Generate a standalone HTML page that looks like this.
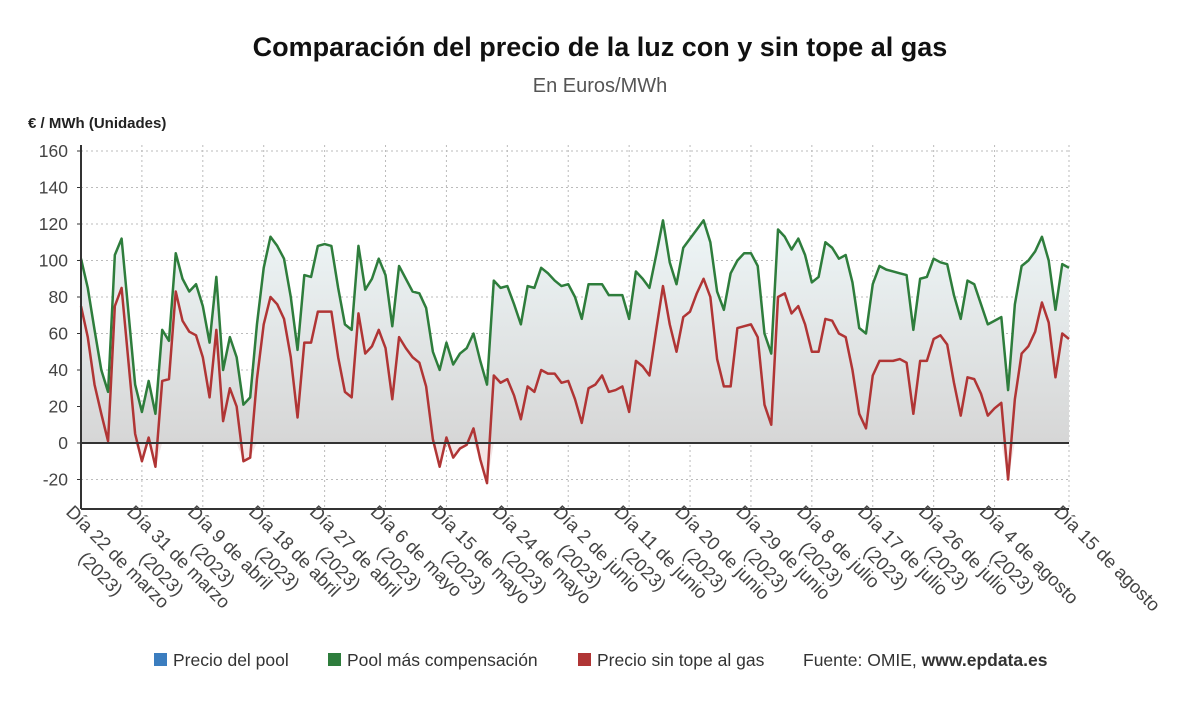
<!DOCTYPE html>
<html><head><meta charset="utf-8">
<style>
body{margin:0;background:#fff;width:1200px;height:705px;overflow:hidden;font-family:"Liberation Sans",sans-serif;}
svg text{font-family:"Liberation Sans",sans-serif;}
</style></head>
<body>
<svg id="chart" width="1200" height="705">
<defs>
<linearGradient id="gfill" x1="0" y1="0" x2="0" y2="1">
<stop offset="0" stop-color="#eef6f7"/><stop offset="1" stop-color="#d6d6d6"/>
</linearGradient>
</defs>
<text x="600" y="56" text-anchor="middle" font-size="27" font-weight="bold" fill="#111">Comparación del precio de la luz con y sin tope al gas</text>
<text x="600" y="92" text-anchor="middle" font-size="20" fill="#555">En Euros/MWh</text>
<text x="28" y="128" font-size="15" font-weight="bold" fill="#222">€ / MWh (Unidades)</text>
<g id="grid"></g>
<g id="areas"></g>
<g id="lines"></g>
<g id="axes"></g>
<g id="xlabels"></g>
<g>
<g><rect x="154" y="653" width="13" height="13" fill="#3b7dbf"/><text x="173" y="666" font-size="17.5" fill="#333">Precio del pool</text></g>
<g><rect x="328" y="653" width="13" height="13" fill="#2e7d3c"/><text x="347" y="666" font-size="17.5" fill="#333">Pool más compensación</text></g>
<g><rect x="578" y="653" width="13" height="13" fill="#b03535"/><text x="597" y="666" font-size="17.5" fill="#333">Precio sin tope al gas</text></g>
<text x="803" y="666" font-size="17.5" fill="#333">Fuente: OMIE, <tspan font-weight="bold">www.epdata.es</tspan></text>
</g>
</svg>
<script>
const pool=[101,85,62,40,28,103,112,72,32,17,34,16,62,56,104,90,83,87,75,55,91,40,58,47,21,25,65,96,113,108,101,80,51,92,91,108,109,108,85,65,62,108,84,90,101,92,64,97,90,83,82,74,50,40,55,43,49,52,60,45,32,89,85,86,76,65,86,85,96,93,89,86,87,80,68,87,87,87,81,81,81,68,94,90,85,103,122,99,87,107,112,117,122,110,83,73,93,100,104,104,97,60,49,117,113,106,112,103,88,91,110,107,101,103,88,63,60,87,97,95,94,93,92,62,90,91,101,99,98,81,68,89,87,76,65,67,69,29,76,97,100,105,113,100,73,98,96];
const sinTope=[75,58,32,16,1,75,85,45,5,-10,3,-13,34,35,83,67,61,59,47,25,62,12,30,20,-10,-8,35,65,80,76,68,47,14,55,55,72,72,72,47,28,25,71,49,53,62,52,24,58,52,47,44,31,2,-13,3,-8,-3,-1,8,-9,-22,37,33,35,26,13,31,28,40,38,38,33,34,24,11,30,32,37,28,29,31,17,45,42,37,62,86,65,50,69,72,82,90,80,46,31,31,63,64,65,58,21,10,80,82,71,75,65,50,50,68,67,60,58,40,16,8,37,45,45,45,46,44,16,45,45,57,59,54,33,15,36,35,27,15,19,22,-20,24,49,53,61,77,66,36,60,57];
const xLabels=["Día 22 de marzo","Día 31 de marzo","Día 9 de abril","Día 18 de abril","Día 27 de abril","Día 6 de mayo","Día 15 de mayo","Día 24 de mayo","Día 2 de junio","Día 11 de junio","Día 20 de junio","Día 29 de junio","Día 8 de julio","Día 17 de julio","Día 26 de julio","Día 4 de agosto","Día 15 de agosto"];
const xLabelIdx=[0,9,18,27,36,45,54,63,72,81,90,99,108,117,126,135,146];
const yTicks=[-20,0,20,40,60,80,100,120,140,160];

const NS="http://www.w3.org/2000/svg";
const X0=81,X1=1069,N=pool.length;
const x=i=>X0+i*(X1-X0)/(N-1);
const y=v=>443-v*1.825;
function mk(t,a,p){const e=document.createElementNS(NS,t);for(const k in a)e.setAttribute(k,a[k]);p.appendChild(e);return e;}
const grid=document.getElementById('grid'),areas=document.getElementById('areas'),lines=document.getElementById('lines'),axes=document.getElementById('axes'),xl=document.getElementById('xlabels');
yTicks.forEach(t=>{
 const l=mk('line',{x1:X0,x2:X1,y1:y(t),y2:y(t),stroke:'#bbb','stroke-dasharray':'2,3'},grid);
 
 
 const tx=mk('text',{x:68,y:y(t)+6,'text-anchor':'end','font-size':17.5,fill:'#444'},axes);
 tx.textContent=t;
 
 
 mk('line',{x1:X0-4,x2:X0,y1:y(t),y2:y(t),stroke:'#333'},axes);
});
xLabelIdx.forEach((i,k)=>{
 const l=mk('line',{x1:x(i),x2:x(i),y1:145,y2:509,stroke:'#bbb','stroke-dasharray':'2,3'},grid);
 
 
 const g=mk('g',{transform:`translate(${x(i)-16},513) rotate(45)`},xl);
 
 
 const t1=mk('text',{x:0,y:0,'font-size':18.5,fill:'#444'},g);
 t1.textContent=xLabels[k];
 if(k<xLabelIdx.length-1){
  const w=t1.getComputedTextLength();
  const t2=mk('text',{x:w/2,y:24,'text-anchor':'middle','font-size':18.5,fill:'#444'},g);
  t2.textContent='(2023)';
 }
});
let d=`M${x(0)},${y(0)}`;pool.forEach((v,i)=>d+=`L${x(i)},${y(v)}`);d+=`L${x(N-1)},${y(0)}Z`;
const a1=mk('path',{d,fill:'url(#gfill)'},areas);


let d2=`M${x(0)},${y(0)}`;sinTope.forEach((v,i)=>d2+=`L${x(i)},${y(Math.min(v,0))}`);d2+=`L${x(N-1)},${y(0)}Z`;
const a2=mk('path',{d:d2,fill:'#f3e6e6'},areas);


const zl=mk('line',{x1:X0,x2:X1,y1:y(0),y2:y(0),stroke:'#333','stroke-width':2},axes);


const pl=mk('polyline',{points:pool.map((v,i)=>x(i)+','+y(v)).join(' '),fill:'none',stroke:'#2e7d3c','stroke-width':2.5,'stroke-linejoin':'round'},lines);


const rl=mk('polyline',{points:sinTope.map((v,i)=>x(i)+','+y(v)).join(' '),fill:'none',stroke:'#b03535','stroke-width':2.5,'stroke-linejoin':'round'},lines);


const ya=mk('line',{x1:X0,x2:X0,y1:145,y2:509,stroke:'#333','stroke-width':2},axes);


const xa=mk('line',{x1:X0,x2:X1,y1:509,y2:509,stroke:'#333','stroke-width':2},axes);


</script>
</body></html>
